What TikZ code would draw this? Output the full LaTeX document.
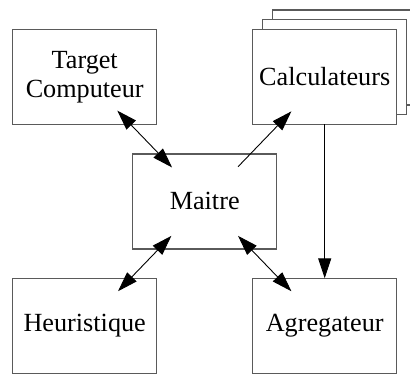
\documentclass[tikz,border=0pt]{standalone}
\usepackage{fontspec}
\setmainfont{Liberation Serif}
\usetikzlibrary{positioning, arrows.meta, calc, backgrounds}
\definecolor{edge}{HTML}{5a5a5a}

\begin{document}
\begin{tikzpicture}[x=0.5pt, y=-0.5pt, font=\fontsize{13.1}{14.5}\selectfont, node distance=48pt,
  box/.style={draw=edge, line width=0.7pt, fill=white, minimum width=72pt, minimum height=47.5pt,
              inner sep=0pt, outer sep=0pt, align=center},
  arr/.style={-{Triangle[length=10pt, width=6.5pt]}, line width=0.45pt},
  dbl/.style={{Triangle[length=10pt, width=6.5pt]}-{Triangle[length=10pt, width=6.5pt]}, line width=0.45pt}
]
  \useasboundingbox (0,0) rectangle (410,374);
  \node[box] (target) at (84.7,76.8) {Target\\Computeur};
  \node[box, right=of target] (calc) {Calculateurs};
  \node[box] (maitre) at (204.7,201.3) {Maitre};
  \node[box, below=77pt of target] (heur) {Heuristique};
  \node[box, right=of heur] (agreg) {Agregateur};
  % stacked copies behind the calculateurs
  \begin{scope}[on background layer]
    \node[box] (calc3) at ($(calc)+(19.5,-19.3)$) {};
    \node[box] (calc2) at ($(calc)+(9.8,-9.6)$) {};
  \end{scope}
  \draw[dbl, shorten <=23.5pt, shorten >=23.5pt] (target.center) -- (maitre.center);
  \draw[arr, shorten <=24pt, shorten >=24pt] (maitre.center) -- (calc.center);
  \draw[dbl, shorten <=24pt, shorten >=24pt] (maitre.center) -- (heur.center);
  \draw[dbl, shorten <=24pt, shorten >=24pt] (maitre.center) -- (agreg.center);
  \draw[arr] (calc.south) -- (agreg.north);
\end{tikzpicture}
\end{document}
